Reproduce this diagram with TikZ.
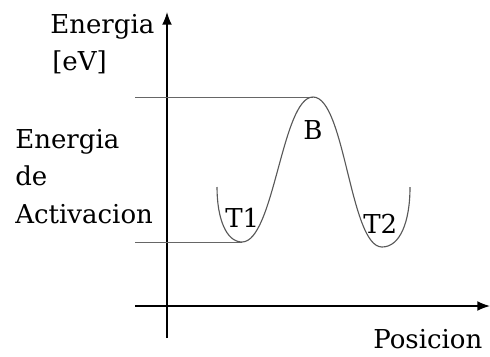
\documentclass[tikz,border=0pt]{standalone}
\usepackage{fontspec}
\setmainfont{DejaVu Serif}
\usetikzlibrary{arrows.meta}

\tikzset{
  eje/.style={line width=1.1pt, -{Latex[length=9pt,width=7pt]}},
  nivel/.style={line width=0.6pt, gray!80!black},
  curva/.style={line width=0.8pt, gray!70!black},
  etiq/.style={inner sep=0pt, anchor=base west, font=\fontsize{18.5}{22}\selectfont}
}

\begin{document}
\begin{tikzpicture}[x=0.025cm, y=-0.025cm]
\useasboundingbox (0,0) rectangle (490,356);

% Ejes
\draw[eje] (167,338) -- (167,12);
\draw[eje] (135,306) -- (490,306);

% Puntos de la curva
\coordinate (t1) at (242,242);
\coordinate (b) at (313,97);
\coordinate (t2) at (382,247);
\coordinate (ib) at (135,97);
\coordinate (it1) at (135,242);

% Niveles
\draw[nivel] (ib) -- (b);
\draw[nivel] (it1) -- (t1);

% Curva de energia
\draw[curva] (217,187) .. controls (217,218) and (226,242) .. (t1)
	.. controls (274,242) and (282,97) .. (b)
	.. controls (345,97) and (350,247) .. (t2)
	.. controls (400,247) and (410,222) .. (410,187);

% Textos
\node[etiq] (en) at (50,33) {Energia};
\node[etiq] (ev) at (52,70) {[eV]};
\foreach \t [count=\i] in {Energia,de,Activacion}
	\node[etiq] (ea\i) at (15,110.5+37.5*\i) {\t};
\node[etiq] (T1) at (225,227) {T1};
\node[etiq] (B) at (303,139) {B};
\node[etiq] (T2) at (363,233) {T2};
\node[etiq] (pos) at (373,348) {Posicion};
\end{tikzpicture}
\end{document}
